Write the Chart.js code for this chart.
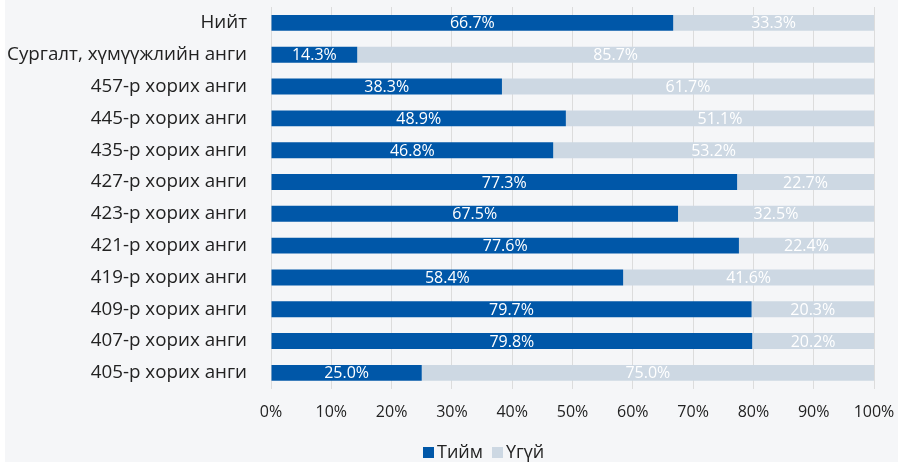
<!DOCTYPE html>
<html>
<head>
<meta charset="utf-8">
<script src="https://cdn.jsdelivr.net/npm/chart.js@4.4.1/dist/chart.umd.min.js"></script>
<style>
  html, body { margin: 0; padding: 0; background: #ffffff; }
  #wrap { position: absolute; left: 5px; top: 0; width: 893px; height: 462px; background: #f5f6f8; }
  #legend { position: absolute; left: 418px; top: 439px; font: 18px "Open Sans", sans-serif; line-height: 24px; color: #222; white-space: nowrap; }
  #legend span.box { display: inline-block; width: 11px; height: 11px; margin-right: 3px; vertical-align: 0px; }
  #legend span.item { margin-right: 9px; }
</style>
</head>
<body>
<div id="wrap">
  <canvas id="chart" width="893" height="462"></canvas>
  <div id="legend"></div>
</div>
<script>
const categories = ['Нийт', 'Сургалт, хүмүүжлийн анги', '457-р хорих анги', '445-р хорих анги',
    '435-р хорих анги', '427-р хорих анги', '423-р хорих анги', '421-р хорих анги',
    '419-р хорих анги', '409-р хорих анги', '407-р хорих анги', '405-р хорих анги'];
const yesValues = [66.7, 14.3, 38.3, 48.9, 46.8, 77.3, 67.5, 77.6, 58.4, 79.7, 79.8, 25.0];
const noValues = [33.3, 85.7, 61.7, 51.1, 53.2, 22.7, 32.5, 22.4, 41.6, 20.3, 20.2, 75.0];
const seriesNames = ['Тийм', 'Үгүй'];
const xTicks = [0, 10, 20, 30, 40, 50, 60, 70, 80, 90, 100];

const colors = ['#0057a8', '#cdd8e3'];

// draw the value labels in the middle of every segment
const valueLabels = {
    id: 'valueLabels',
    afterDatasetsDraw(chart) {
        const ctx = chart.ctx;
        ctx.save();
        ctx.font = '16px "Open Sans", sans-serif';
        ctx.fillStyle = '#ffffff';
        ctx.textAlign = 'center';
        ctx.textBaseline = 'middle';
        chart.data.datasets.forEach((ds, i) => {
            chart.getDatasetMeta(i).data.forEach((bar, j) => {
                const x = (bar.x + bar.base) / 2;
                ctx.fillText(ds.data[j].toFixed(1) + '%', x, bar.y + 1);
            });
        });
        ctx.restore();
    }
};

// no label overhang padding, margins come from layout.padding
function noOverhang(scale) {
    scale.paddingTop = 0;
    scale.paddingBottom = 0;
    scale.paddingLeft = 0;
    scale.paddingRight = 0;
}

new Chart(document.getElementById('chart'), {
    type: 'bar',
    data: {
        labels: categories,
        datasets: [
            { label: seriesNames[0], data: yesValues, backgroundColor: colors[0] },
            { label: seriesNames[1], data: noValues, backgroundColor: colors[1] }
        ]
    },
    options: {
        indexAxis: 'y',
        responsive: false,
        animation: false,
        layout: { padding: { top: 7, right: 24, bottom: 26, left: 0 } },
        datasets: { bar: { barPercentage: 0.5, categoryPercentage: 1 } },
        plugins: { legend: { display: false }, tooltip: { enabled: false } },
        scales: {
            x: {
                stacked: true,
                min: 0,
                max: 100,
                afterBuildTicks: (scale) => { scale.ticks = xTicks.map(v => ({ value: v })); },
                afterFit: noOverhang,
                ticks: {
                    callback: (v) => v + '%',
                    color: '#222',
                    font: { family: 'Open Sans', size: 16 },
                    padding: 14,
                    maxRotation: 0
                },
                grid: { color: '#dcdcdc', drawTicks: false },
                border: { display: false }
            },
            y: {
                stacked: true,
                afterFit: (scale) => { noOverhang(scale); scale.width = 266; },
                ticks: {
                    color: '#222',
                    font: { family: 'Open Sans', size: 18.8 },
                    padding: 24
                },
                grid: { display: false, drawTicks: false },
                border: { display: true, color: '#dcdcdc' }
            }
        }
    },
    plugins: [valueLabels]
});

document.getElementById('legend').innerHTML = seriesNames.map((n, i) =>
    `<span class="item"><span class="box" style="background:${colors[i]}"></span>${n}</span>`).join('');
</script>
</body>
</html>
